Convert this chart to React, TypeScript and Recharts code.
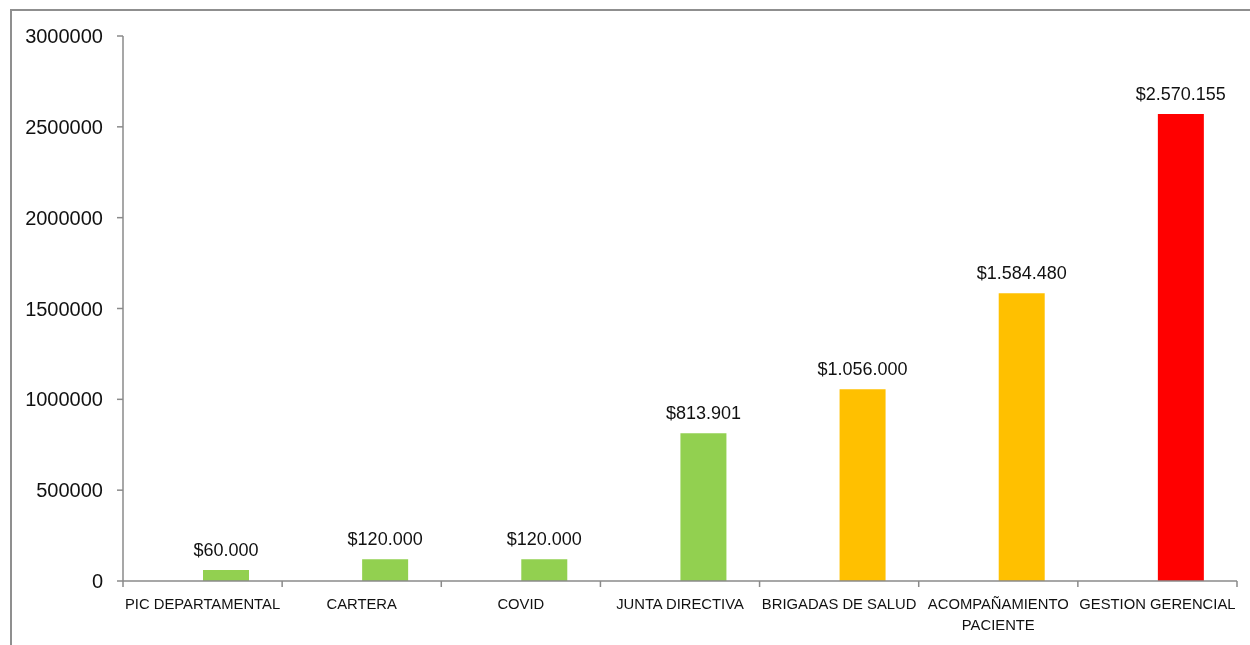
import React from "react";
import { BarChart, Bar, XAxis, YAxis, Cell, LabelList } from "recharts";

const categories = [
  "PIC DEPARTAMENTAL",
  "CARTERA",
  "COVID",
  "JUNTA DIRECTIVA",
  "BRIGADAS DE SALUD",
  "ACOMPAÑAMIENTO PACIENTE",
  "GESTION GERENCIAL",
];
const values = [60000, 120000, 120000, 813901, 1056000, 1584480, 2570155];
const blank = [null, null, null, null, null, null, null];
const barColors = ["#92D050", "#92D050", "#92D050", "#92D050", "#FFC000", "#FFC000", "#FF0000"];
const yTicks = [0, 500000, 1000000, 1500000, 2000000, 2500000, 3000000];

const data = categories.map((c, i) => ({ name: c, blank: blank[i], value: values[i] }));

const W = 1242;
const H = 629;
const MARGIN = { top: 28, right: 13, bottom: 16, left: 0 };
const Y_WIDTH = 115;
const PLOT_W = W - MARGIN.left - MARGIN.right - Y_WIDTH;
const BAND = PLOT_W / categories.length;
const FONT = "'Liberation Sans', Arial, sans-serif";
const AXIS = "#8a8a8a";
const X_FONT = 14.8;

const fmt = (v: any) =>
  "$" + String(v).replace(/\B(?=(\d{3})+(?!\d))/g, ".");

let ctx: CanvasRenderingContext2D | null = null;
const measure = (s: string) => {
  if (!ctx) {
    ctx = document.createElement("canvas").getContext("2d");
  }
  if (!ctx) return s.length * X_FONT * 0.6;
  ctx.font = `${X_FONT}px ${FONT}`;
  return ctx.measureText(s).width;
};

const wrap = (label: string, maxW: number) => {
  const words = label.split(" ");
  const lines: string[] = [];
  let cur = "";
  for (const w of words) {
    const test = cur ? cur + " " + w : w;
    if (cur && measure(test) > maxW) {
      lines.push(cur);
      cur = w;
    } else {
      cur = test;
    }
  }
  if (cur) lines.push(cur);
  return lines;
};

const CategoryTick = (props: any) => {
  const { x, y, payload, index } = props;
  const half = BAND / 2;
  const last = index === categories.length - 1;
  const lines = wrap(String(payload.value), BAND + 6);
  return (
    <g>
      <line x1={x - half} x2={x - half} y1={y} y2={y + 6} stroke={AXIS} strokeWidth={1.5} />
      {last && (
        <line x1={x + half} x2={x + half} y1={y} y2={y + 6} stroke={AXIS} strokeWidth={1.5} />
      )}
      <text x={x} y={y + 28} textAnchor="middle" fontSize={X_FONT} fontFamily={FONT} fill="#111">
        {lines.map((l, i) => (
          <tspan key={i} x={x} dy={i === 0 ? 0 : 21}>
            {l}
          </tspan>
        ))}
      </text>
    </g>
  );
};

export default function App() {
  return (
    <div style={{ position: "relative", width: W, height: H }}>
      <div
        style={{
          position: "fixed",
          left: 10,
          top: 9,
          width: 1300,
          height: 700,
          borderTop: "2px solid #8f8f8f",
          borderLeft: "2px solid #8f8f8f",
          boxSizing: "border-box",
          pointerEvents: "none",
        }}
      />
      <BarChart width={W} height={H} data={data} margin={MARGIN} barGap={0} barSize={46}>
        <XAxis
          dataKey="name"
          interval={0}
          tickLine={false}
          tickSize={0}
          tickMargin={0}
          height={40}
          axisLine={{ stroke: AXIS, strokeWidth: 1.5 }}
          tick={<CategoryTick />}
        />
        <YAxis
          width={Y_WIDTH}
          domain={[0, 3000000]}
          ticks={yTicks}
          interval={0}
          tickSize={6}
          tickMargin={14}
          axisLine={{ stroke: AXIS, strokeWidth: 1.5 }}
          tickLine={{ stroke: AXIS, strokeWidth: 1.5 }}
          tick={{ fontSize: 20, fontFamily: FONT, fill: "#111" }}
        />
        <Bar dataKey="blank" isAnimationActive={false} fill="transparent" />
        <Bar dataKey="value" isAnimationActive={false}>
          {data.map((d, i) => (
            <Cell key={d.name} fill={barColors[i]} />
          ))}
          <LabelList
            dataKey="value"
            position="top"
            offset={14}
            formatter={fmt}
            style={{ fontSize: 18, fontFamily: FONT, fill: "#111" }}
          />
        </Bar>
      </BarChart>
    </div>
  );
}
